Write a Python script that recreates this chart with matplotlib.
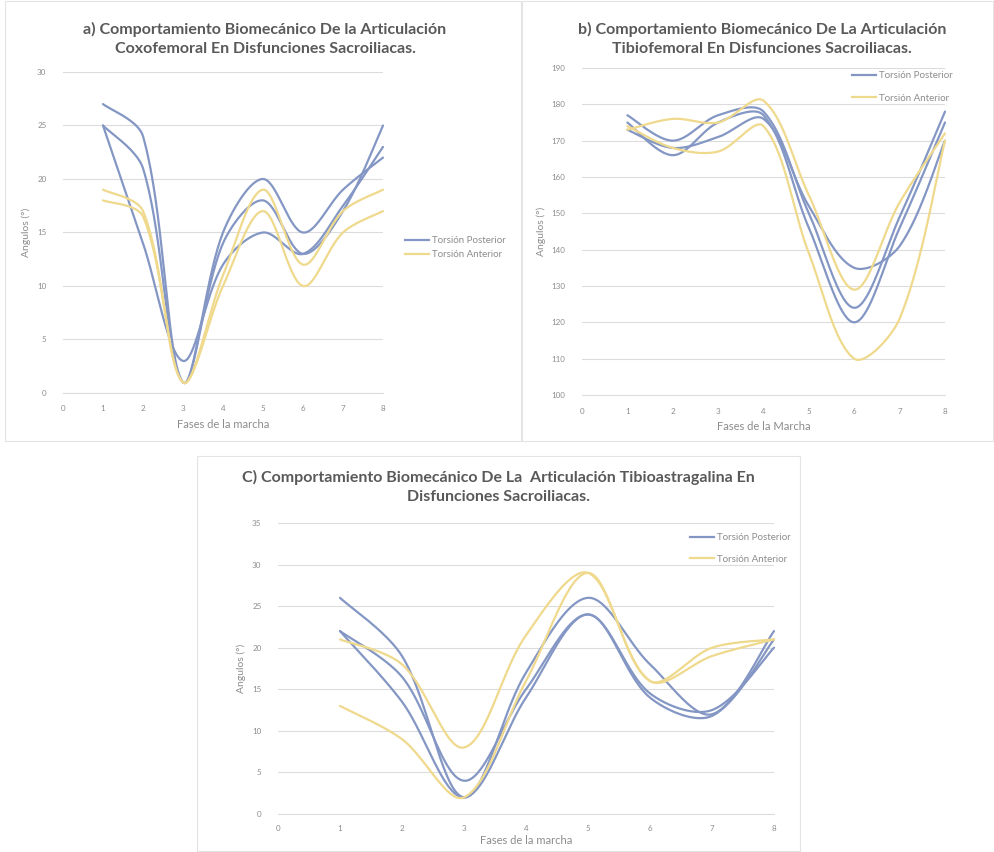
import numpy as np
import matplotlib
matplotlib.use("Agg")
import matplotlib.pyplot as plt
from matplotlib.patches import Rectangle

plt.rcParams['font.family'] = ['Lato', 'DejaVu Sans']

W, H = 994, 852
BLUE = '#8497C4'
YELLOW = '#EFD98C'
GRID = '#DCDCDC'
TXT = '#8C8C8C'
TITLE = '#595959'

fases = [1, 2, 3, 4, 5, 6, 7, 8]
xticks = [0, 1, 2, 3, 4, 5, 6, 7, 8]

# a) coxofemoral
cox_post = [
    [27, 24, 1, 15, 20, 15, 19, 22],
    [25, 21, 1, 14, 18, 13, 17, 25],
    [25, 14, 3, 12, 15, 13, 17.5, 23],
]
cox_ant = [
    [19, 17, 1, 11, 19, 12, 17, 19],
    [18, 16.5, 1, 10, 17, 10, 15, 17],
]

# b) tibiofemoral
tib_post = [
    [177, 170, 177, 178, 150, 124, 149, 178],
    [175, 166, 175, 177, 146, 120, 146, 175],
    [173, 168, 171, 176, 152, 135, 141, 170],
]
tib_ant = [
    [173, 176, 175, 181, 155, 129, 153, 172],
    [174, 168, 167, 174, 139, 110, 121, 170],
]

# c) tibioastragalina
ast_post = [
    [26, 19, 2, 17, 26, 18, 12, 22],
    [22, 16.5, 4, 15, 24, 14.5, 12.5, 20],
    [22, 13.5, 2, 14, 24, 14, 11.8, 21],
]
ast_ant = [
    [21, 18, 8, 21.5, 29, 16, 20, 21],
    [13, 9, 2, 16, 29, 16, 19, 21],
]


def smooth(ax, x, y, n=40):
    # smoothed line like Excel's: Bezier segments, tangents weighted by
    # the screen length of the neighbouring chords
    pts = ax.transData.transform(np.column_stack([x, y]).astype(float))
    m = len(pts)
    tan = np.zeros_like(pts)
    for i in range(m):
        a = pts[max(i - 1, 0)]
        b = pts[min(i + 1, m - 1)]
        tan[i] = b - a
    t = np.linspace(0, 1, n)[:, None]
    out = []
    for i in range(m - 1):
        p1, p2 = pts[i], pts[i + 1]
        d = np.linalg.norm(p2 - p1)
        dp = np.linalg.norm(p1 - pts[i - 1]) if i > 0 else d
        dn = np.linalg.norm(pts[i + 2] - p2) if i + 2 < m else d
        c1 = p1 + tan[i] * d / (dp + d) / 3
        c2 = p2 - tan[i + 1] * d / (d + dn) / 3
        b = ((1 - t) ** 3) * p1 + 3 * ((1 - t) ** 2) * t * c1 + 3 * (1 - t) * t ** 2 * c2 + t ** 3 * p2
        out.append(b)
    out = ax.transData.inverted().transform(np.vstack(out))
    return out[:, 0], out[:, 1]


def px_axes(fig, x0, x1, ytop, ybot):
    return fig.add_axes([x0 / W, 1 - ybot / H, (x1 - x0) / W, (ybot - ytop) / H])


def panel(ax, post, ant, yticks, title, xlabel, title_xy, leg_xy, leg_space, xpad=9, lpad=5):
    ax.set_xlim(xticks[0], xticks[-1])
    ax.set_ylim(yticks[0], yticks[-1])
    for s in post:
        xs, ys = smooth(ax, fases, s)
        ax.plot(xs, ys, color=BLUE, lw=1.6, solid_capstyle='round', clip_on=False)
    for s in ant:
        xs, ys = smooth(ax, fases, s)
        ax.plot(xs, ys, color=YELLOW, lw=1.6, solid_capstyle='round', clip_on=False)
    ax.set_xticks(xticks)
    ax.set_yticks(yticks)
    ax.grid(axis='y', color=GRID, lw=0.8)
    ax.set_axisbelow(True)
    for sp in ['top', 'right', 'left']:
        ax.spines[sp].set_visible(False)
    ax.spines['bottom'].set_color(GRID)
    ax.tick_params(length=0, labelsize=5.8, colors=TXT)
    ax.tick_params(axis='x', pad=xpad)
    ax.tick_params(axis='y', pad=12)
    ax.set_xlabel(xlabel, fontsize=8, color=TXT, labelpad=lpad)
    ax.set_ylabel('Angulos (°)', fontsize=7.5, color=TXT, labelpad=4)
    fig.text(title_xy[0] / W, 1 - title_xy[1] / H, title, ha='center', va='center',
             fontsize=11.5, fontweight='bold', color=TITLE, linespacing=1.4)
    handles = [plt.Line2D([], [], color=BLUE, lw=1.6), plt.Line2D([], [], color=YELLOW, lw=1.6)]
    ax.legend(handles, ['Torsión Posterior', 'Torsión Anterior'],
              loc='upper left', bbox_to_anchor=(leg_xy[0] / W, 1 - leg_xy[1] / H),
              bbox_transform=fig.transFigure, frameon=False, fontsize=7,
              labelcolor=TXT, handlelength=2.5, handletextpad=0.3,
              labelspacing=leg_space, borderpad=0, borderaxespad=0)


fig = plt.figure(figsize=(W / 100, H / 100), dpi=100)
fig.patch.set_facecolor('white')

# panel frames
for (x0, y0, x1, y1) in [(5, 1, 521, 441), (522, 1, 993, 441), (197, 456, 800, 851)]:
    fig.patches.append(Rectangle((x0 / W, 1 - y1 / H), (x1 - x0) / W, (y1 - y0) / H,
                                 transform=fig.transFigure, fill=False,
                                 edgecolor='#E4E4E4', lw=0.8))

ax_a = px_axes(fig, 63, 383, 72, 393)
panel(ax_a, cox_post, cox_ant, [0, 5, 10, 15, 20, 25, 30],
      'a) Comportamiento Biomecánico De la Articulación\nCoxofemoral En Disfunciones Sacroiliacas.',
      'Fases de la marcha', (265, 39), (405, 236), 0.55)

ax_b = px_axes(fig, 582, 945, 68, 395)
panel(ax_b, tib_post, tib_ant, list(range(100, 191, 10)),
      'b) Comportamiento Biomecánico De La Articulación\nTibiofemoral En Disfunciones Sacroiliacas.',
      'Fases de la Marcha', (762, 39), (852, 71), 1.4)

ax_c = px_axes(fig, 278, 774, 523, 814)
panel(ax_c, ast_post, ast_ant, [0, 5, 10, 15, 20, 25, 30, 35],
      'C) Comportamiento Biomecánico De La  Articulación Tibioastragalina En\nDisfunciones Sacroiliacas.',
      'Fases de la marcha', (498, 487), (690, 533), 1.3, xpad=8, lpad=2)

fig.savefig('out.png', dpi=100, facecolor='white')
